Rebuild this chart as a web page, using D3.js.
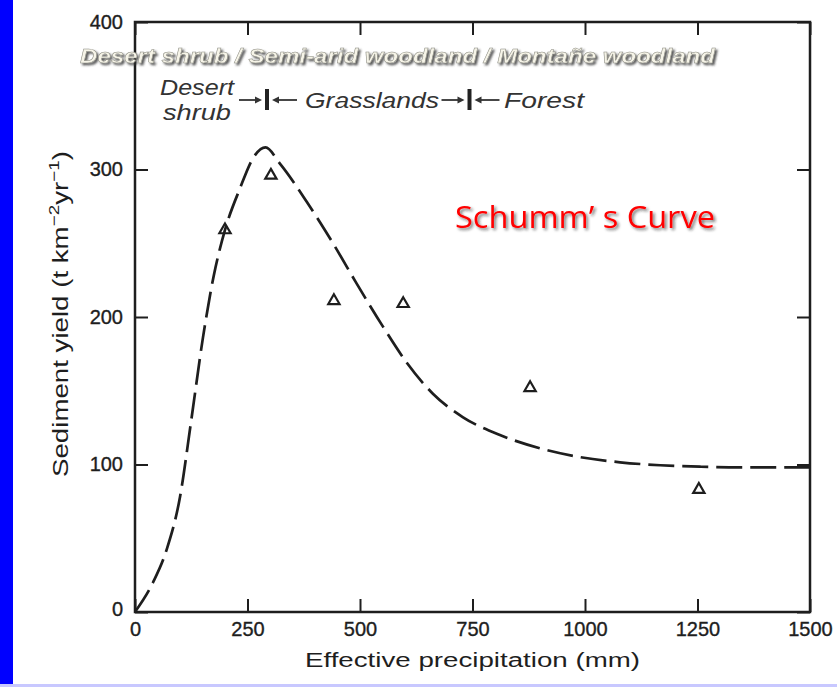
<!DOCTYPE html>
<html>
<head>
<meta charset="utf-8">
<script src="https://cdn.jsdelivr.net/npm/d3@7"></script>
<style>
  html, body { margin: 0; padding: 0; background: #fff; }
  svg { display: block; }
</style>
</head>
<body>
<div id="chart"></div>
<script>
// --- data ---
const xTicks = [0, 250, 500, 750, 1000, 1250, 1500];
const yTicks = [0, 100, 200, 300, 400];

// observed points (triangles)
const obsX = [200, 302, 442, 596, 878, 1253];
const obsY = [259, 296, 211, 209, 152, 83];

// Schumm's dashed curve
const curveX = [0, 40, 70, 100, 125, 151, 175, 200, 233, 265, 290, 322, 382, 440, 490, 550, 604, 662, 729, 811, 900, 989, 1078, 1167, 1256, 1344, 1500];
const curveY = [0, 20, 42, 78, 130, 186, 228, 259, 287, 309, 315, 304, 278, 250, 224, 194, 169, 148, 132, 120, 111, 105, 101.5, 99.5, 98.5, 98, 98];

// vegetation zone boundaries
const zoneBounds = [300, 750];

const W = 837, H = 687;
const margin = {left: 135, right: 27, top: 22, bottom: 75};

const svg = d3.select('#chart').append('svg')
    .attr('width', W).attr('height', H);

const defs = svg.append('defs');
defs.append('filter').attr('id', 'shadow').attr('x', '-5%').attr('y', '-20%').attr('width', '110%').attr('height', '160%')
    .append('feDropShadow').attr('dx', 2).attr('dy', 2).attr('stdDeviation', 1.2)
    .attr('flood-color', '#333').attr('flood-opacity', 0.8);
defs.append('filter').attr('id', 'shadow2').attr('x', '-5%').attr('y', '-20%').attr('width', '110%').attr('height', '160%')
    .append('feDropShadow').attr('dx', 2).attr('dy', 2).attr('stdDeviation', 1.5)
    .attr('flood-color', '#222').attr('flood-opacity', 0.6);

// page frame bits
svg.append('rect').attr('x', 0).attr('y', 0).attr('width', 13).attr('height', H).attr('fill', '#0000ff');
svg.append('rect').attr('x', 0).attr('y', 684).attr('width', W).attr('height', 3).attr('fill', '#c8c8ff');

const x = d3.scaleLinear().domain([0, 1500]).range([margin.left, W - margin.right]);
const y = d3.scaleLinear().domain([0, 400]).range([H - margin.bottom, margin.top]);

const ink = '#1e1e1e';
const fmt = d3.format('d');

// axes, ticks pointing inward
const gx = svg.append('g').attr('transform', `translate(0,${y(0)})`)
    .call(d3.axisBottom(x).tickValues(xTicks).tickFormat(fmt).tickSizeInner(-13).tickSizeOuter(0).tickPadding(10));
const gxTop = svg.append('g').attr('transform', `translate(0,${y(400)})`)
    .call(d3.axisTop(x).tickValues(xTicks).tickSizeInner(-13).tickSizeOuter(0).tickFormat(''));
const gy = svg.append('g').attr('transform', `translate(${x(0)},0)`)
    .call(d3.axisLeft(y).tickValues(yTicks).tickFormat(fmt).tickSizeInner(-13).tickSizeOuter(0).tickPadding(12));
const gyR = svg.append('g').attr('transform', `translate(${x(1500)},0)`)
    .call(d3.axisRight(y).tickValues(yTicks).tickSizeInner(-13).tickSizeOuter(0).tickFormat(''));

[gx, gxTop, gy, gyR].forEach(g => {
    g.select('.domain').remove();
    g.selectAll('.tick line').attr('stroke', ink).attr('stroke-width', 2);
    g.selectAll('.tick text')
        .style('font-family', '"Liberation Sans", Arial, sans-serif')
        .style('font-size', '20px')
        .attr('fill', ink).attr('stroke', ink).attr('stroke-width', 0.35);
});
gy.selectAll('.tick').filter(d => d === 0).select('text').attr('dy', '0.15em');

// frame
svg.append('rect')
    .attr('x', x(0)).attr('y', y(400))
    .attr('width', x(1500) - x(0)).attr('height', y(0) - y(400))
    .attr('fill', 'none').attr('stroke', ink).attr('stroke-width', 2.5);

// dashed curve
const curvePts = curveX.map((v, i) => [v, curveY[i]]);
const line = d3.line().x(d => x(d[0])).y(d => y(d[1])).curve(d3.curveMonotoneX);
svg.append('path')
    .datum(curvePts)
    .attr('d', line)
    .attr('fill', 'none')
    .attr('stroke', ink)
    .attr('stroke-width', 2.7)
    .attr('stroke-dasharray', '26,8');

// observation triangles
const tri = d3.symbol().type(d3.symbolTriangle).size(55);
svg.selectAll('path.obs')
    .data(obsX.map((v, i) => [v, obsY[i]]))
    .join('path')
    .attr('class', 'obs')
    .attr('d', tri)
    .attr('transform', d => `translate(${x(d[0])},${y(d[1])})`)
    .attr('fill', 'none')
    .attr('stroke', ink)
    .attr('stroke-width', 2.2);

// axis titles
svg.append('text')
    .attr('x', (x(0) + x(1500)) / 2).attr('y', 667)
    .attr('text-anchor', 'middle')
    .style('font-family', '"Liberation Sans", Arial, sans-serif')
    .style('font-size', '20px').attr('fill', ink)
    .attr('textLength', 335).attr('lengthAdjust', 'spacingAndGlyphs')
    .text('Effective precipitation (mm)');

const ylab = svg.append('text')
    .attr('transform', `translate(68,314) rotate(-90)`)
    .attr('text-anchor', 'middle')
    .attr('textLength', 326).attr('lengthAdjust', 'spacingAndGlyphs')
    .style('font-family', '"Liberation Sans", Arial, sans-serif')
    .style('font-size', '22px').attr('fill', ink);
ylab.append('tspan').text('Sediment yield (t km');
ylab.append('tspan').attr('dy', -9).style('font-size', '15px').text('\u22122');
ylab.append('tspan').attr('dy', 9).text('yr');
ylab.append('tspan').attr('dy', -9).style('font-size', '15px').text('\u22121');
ylab.append('tspan').attr('dy', 9).text(')');

// overlaid heading
svg.append('text')
    .attr('x', 80).attr('y', 63)
    .attr('textLength', 635).attr('lengthAdjust', 'spacingAndGlyphs')
    .style('font-family', '"Liberation Sans", Arial, sans-serif')
    .style('font-size', '21px').style('font-weight', 'bold').style('font-style', 'italic')
    .attr('fill', '#f6f4e8').attr('stroke', '#8a8a80').attr('stroke-width', 0.5)
    .attr('filter', 'url(#shadow)')
    .text('Desert shrub / Semi-arid woodland / Montañe woodland');

// vegetation zone labels
const zoneFont = g => g.style('font-family', '"Liberation Sans", Arial, sans-serif')
    .style('font-style', 'italic').style('font-size', '22px').attr('fill', '#333');
svg.append('text').attr('x', 197).attr('y', 95).attr('text-anchor', 'middle').call(zoneFont)
    .attr('textLength', 74).attr('lengthAdjust', 'spacingAndGlyphs').text('Desert');
svg.append('text').attr('x', 197).attr('y', 120).attr('text-anchor', 'middle').call(zoneFont)
    .attr('textLength', 68).attr('lengthAdjust', 'spacingAndGlyphs').text('shrub');
svg.append('text').attr('x', 372).attr('y', 108).attr('text-anchor', 'middle').call(zoneFont)
    .attr('textLength', 134).attr('lengthAdjust', 'spacingAndGlyphs').text('Grasslands');
svg.append('text').attr('x', 504).attr('y', 108).call(zoneFont)
    .attr('textLength', 80).attr('lengthAdjust', 'spacingAndGlyphs').text('Forest');

// boundary bars with arrows
const arrowY = 100;
zoneBounds.forEach(b => {
    const bx = x(b) - 3;
    svg.append('line').attr('x1', bx).attr('x2', bx).attr('y1', 89).attr('y2', 110)
        .attr('stroke', '#222').attr('stroke-width', 4);
    svg.append('line').attr('x1', bx - 28).attr('x2', bx - 8).attr('y1', arrowY).attr('y2', arrowY)
        .attr('stroke', '#333').attr('stroke-width', 1.8);
    svg.append('path').attr('d', `M${bx - 5},${arrowY} l-7,-3.5 l0,7 z`).attr('fill', '#333');
    svg.append('line').attr('x1', bx + 8).attr('x2', bx + 30).attr('y1', arrowY).attr('y2', arrowY)
        .attr('stroke', '#333').attr('stroke-width', 1.8);
    svg.append('path').attr('d', `M${bx + 5},${arrowY} l7,-3.5 l0,7 z`).attr('fill', '#333');
});

// red title
svg.append('text')
    .attr('x', 585).attr('y', 228)
    .attr('text-anchor', 'middle')
    .style('font-family', '"Open Sans", "Noto Sans", sans-serif')
    .style('font-size', '31px')
    .attr('fill', '#ff0000')
    .attr('textLength', 260).attr('lengthAdjust', 'spacingAndGlyphs')
    .attr('filter', 'url(#shadow2)')
    .text('Schumm\u2019 s Curve');
</script>
</body>
</html>
